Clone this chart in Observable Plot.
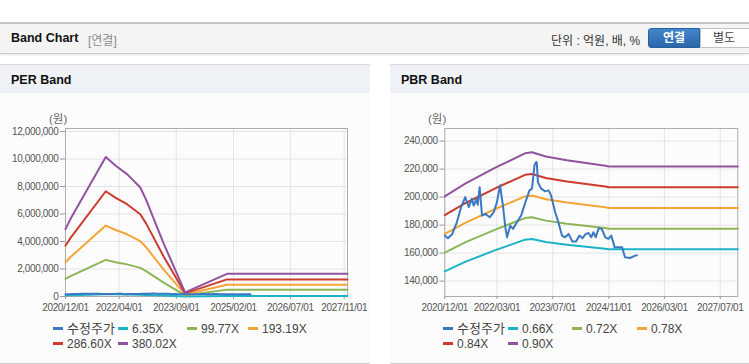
<!DOCTYPE html>
<html>
<head>
<meta charset="utf-8">
<script src="https://cdn.jsdelivr.net/npm/d3@7"></script>
<script src="https://cdn.jsdelivr.net/npm/@observablehq/plot@0.6"></script>
<style>
  html, body { margin: 0; padding: 0; background: #ffffff; }
  body { width: 749px; height: 364px; position: relative; overflow: hidden;
         font-family: "Liberation Sans", Arial, "Noto Sans CJK KR", sans-serif; }
  .abs { position: absolute; }
  #topbar { left: 0; top: 22px; width: 749px; height: 29px; background: #f4f4f4;
            border-top: 2px solid #c4c4c4; border-bottom: 1px solid #cdcdcd;
            box-shadow: 0 1px 2px rgba(0,0,0,0.10); }
  .panel { top: 64px; height: 298px; background: #fcfcfc; border-top: 1px solid #dadada;
           border-bottom: 1px solid #cfcfcf; }
  .phead { left: 0; top: 0; right: 0; height: 28px; background: #eef2f7; }
  .ptitle { font-weight: bold; font-size: 12.5px; color: #111; }
  .unit { font-size: 11.5px; color: #666; white-space: nowrap; }
  .leg { font-size: 12px; color: #444; white-space: nowrap; line-height: 14px; }
  .sw { display: inline-block; width: 10px; height: 3px; vertical-align: middle; margin-right: 4px; position: relative; top: -1px; }
</style>
</head>
<body>
<div id="topbar" class="abs"></div>
<div class="abs" style="left:11px;top:31px;font-weight:bold;font-size:12.5px;color:#111;">Band Chart</div>
<div class="abs" style="left:88px;top:31px;font-size:12px;color:#8a8a8a;">[연결]</div>
<div class="abs" style="left:551px;top:31px;font-size:12px;color:#333;">단위 : 억원, 배, %</div>
<div class="abs" style="left:648px;top:28px;width:52px;height:20px;box-sizing:border-box;border:1px solid #2a5f9e;border-radius:3px 0 0 3px;background:linear-gradient(#4486cb,#2a66aa);color:#fff;font-weight:bold;font-size:12px;text-align:center;line-height:18px;">연결</div>
<div class="abs" style="left:700px;top:28px;width:52px;height:20px;box-sizing:border-box;border:1px solid #c2c2c2;border-radius:0 3px 3px 0;background:#fff;color:#444;font-size:12px;text-align:center;line-height:18px;padding-right:4px;">별도</div>

<div class="abs panel" style="left:0;width:370px;">
  <div class="abs phead"></div>
  <div class="abs ptitle" style="left:11px;top:8px;">PER Band</div>
</div>
<div class="abs panel" style="left:390px;width:359px;">
  <div class="abs phead"></div>
  <div class="abs ptitle" style="left:11px;top:8px;">PBR Band</div>
</div>

<div class="abs unit" style="left:49px;top:110px;">(원)</div>
<div class="abs unit" style="left:428px;top:110px;">(원)</div>

<div id="perChart" class="abs" style="left:0;top:100px;"></div>
<div id="pbrChart" class="abs" style="left:380px;top:100px;"></div>
<div id="perLegend"></div>
<div id="pbrLegend"></div>

<script>
// ---------- data ----------
const priceDates = [
  "2020-12-01","2020-12-28","2021-02-04","2021-03-16","2021-04-22","2021-05-28","2021-06-28",
  "2021-07-25","2021-08-10","2021-09-04","2021-09-14","2021-10-01","2021-10-22","2021-11-19",
  "2021-12-28","2022-02-01","2022-03-01","2022-03-28","2022-04-22","2022-05-13","2022-05-28",
  "2022-06-25","2022-07-19","2022-08-22","2022-09-28","2022-11-04","2022-12-10","2023-01-01",
  "2023-01-22","2023-02-07","2023-02-12","2023-02-21","2023-03-22","2023-04-25","2023-05-25",
  "2023-06-16","2023-07-22","2023-08-19","2023-09-19","2023-10-16","2023-11-16","2023-12-19",
  "2024-01-19","2024-02-19","2024-03-16","2024-04-10","2024-05-07","2024-06-01","2024-06-19",
  "2024-07-10","2024-08-04","2024-09-01","2024-10-01","2024-10-28","2024-11-22","2024-12-22",
  "2025-01-25","2025-02-25","2025-03-22","2025-05-04","2025-06-19","2025-07-04"
];
const priceValues = [
  172500,170600,173700,182000,192800,200000,192800,
  198800,194000,198800,194500,207100,186800,188100,
  185600,189200,196400,208400,194000,178500,171300,
  179700,177300,182000,186800,196400,204800,206000,
  222700,225100,224000,210700,206000,204100,204800,
  201200,189200,182000,172500,171300,173700,168200,
  168200,172500,170600,173400,174400,171300,174900,
  171300,177700,177300,171300,170100,172500,164100,
  164100,164100,157000,156500,158200,158500
];

const perBandDates = ["2020-12-01","2021-01-16","2021-12-01","2022-03-01","2022-06-12","2022-10-10",
  "2022-12-01","2023-05-10","2023-11-20","2024-12-04","2027-12-01"];
const perBand635   = [81900, 94400, 169600, 158900, 148700, 132500, 117800, 64300, 5000, 27600, 27600];
const perBand9977  = [1286000, 1483000, 2665000, 2497000, 2337000, 2082000, 1851000, 1011000, 79000, 500000, 500000];
const perBand19319 = [2491000, 2872000, 5160000, 4835000, 4525000, 4031000, 3584000, 1957000, 152000, 850000, 850000];
const perBand28660 = [3695000, 4261000, 7655000, 7172000, 6712000, 5981000, 5317000, 2904000, 226000, 1244000, 1244000];
const perBand38002 = [4900000, 5650000, 10150000, 9510000, 8900000, 7930000, 7050000, 3850000, 300000, 1650000, 1650000];

const pbrBandDates = ["2020-12-01","2021-06-01","2022-02-15","2022-11-01","2023-01-01","2023-05-01",
  "2023-11-01","2024-10-01","2024-11-01","2027-12-01"];
const pbrBand066 = [147000,153900,162100,169600,170100,167900,166000,163100,162700,162700];
const pbrBand072 = [160400,167800,176800,185000,185600,183200,181000,177900,177400,177400];
const pbrBand078 = [173800,181800,191500,200500,201100,198500,196100,192700,192200,192200];
const pbrBand084 = [187100,195800,206300,215900,216500,213700,211200,207600,207000,207000];
const pbrBand090 = [200500,209800,221000,231300,232000,229000,226300,222400,221800,221800];

const perXTickLabels = ["2020/12/01","2022/04/01","2023/09/01","2025/02/01","2026/07/01","2027/11/01"];
const pbrXTickLabels = ["2020/12/01","2022/03/01","2023/07/01","2024/11/01","2026/03/01","2027/07/01"];
const perYTicks = [0, 2000000, 4000000, 6000000, 8000000, 10000000, 12000000];
const pbrYTicks = [140000, 160000, 180000, 200000, 220000, 240000];

const perLegendLabels = ["수정주가", "6.35X", "99.77X", "193.19X", "286.60X", "380.02X"];
const pbrLegendLabels = ["수정주가", "0.66X", "0.72X", "0.78X", "0.84X", "0.90X"];
const seriesColors = ["#3b78c4", "#1bb3c8", "#8cb656", "#f4a536", "#cf3a2e", "#91539e"];

// ---------- helpers ----------
const parseDash = d3.utcParse("%Y-%m-%d");
const parseSlash = d3.utcParse("%Y/%m/%d");
const fmtSlash = d3.utcFormat("%Y/%m/%d");
const rows = (dates, vals) => dates.map((d, i) => ({date: parseDash(d), value: vals[i]}));

function bandChart({bands, xTickLabels, yTicks, yDomain, width, height, marginLeft, marginRight}) {
  const xTicks = xTickLabels.map(parseSlash);
  const marks = [
    Plot.gridX(xTicks, {stroke: "#e4e4e4", strokeOpacity: 1}),
    Plot.gridY(yTicks, {stroke: "#e4e4e4", strokeOpacity: 1}),
    Plot.frame({stroke: "#adadad"}),
    Plot.axisY(yTicks, {label: null, tickSize: 5, tickPadding: 2, tickFormat: d3.format(","), stroke: "#999", fill: "#555", fontSize: 10}),
    Plot.axisX(xTicks, {label: null, tickSize: 3, tickPadding: 4, tickFormat: fmtSlash, stroke: "#999", fill: "#555", fontSize: 10})
  ];
  bands.forEach((b, i) => {
    marks.push(Plot.line(b, {x: "date", y: "value", stroke: seriesColors[i + 1], strokeWidth: 2}));
  });
  marks.push(Plot.line(rows(priceDates, priceValues), {x: "date", y: "value", stroke: seriesColors[0], strokeWidth: 2}));
  return Plot.plot({
    width, height, marginLeft, marginRight, marginTop: 28, marginBottom: 29,
    style: {background: "transparent", overflow: "visible", fontFamily: "'Liberation Sans', Arial, sans-serif",
            maxWidth: "none", letterSpacing: "-0.35px"},
    x: {type: "utc", domain: [parseDash("2020-12-01"), parseDash("2027-12-01")], label: null},
    y: {domain: yDomain, label: null},
    marks
  });
}

document.getElementById("perChart").appendChild(bandChart({
  bands: [rows(perBandDates, perBand635), rows(perBandDates, perBand9977), rows(perBandDates, perBand19319),
          rows(perBandDates, perBand28660), rows(perBandDates, perBand38002)],
  xTickLabels: perXTickLabels, yTicks: perYTicks, yDomain: [0, 12220000],
  width: 370, height: 225, marginLeft: 65, marginRight: 23
}));
document.getElementById("pbrChart").appendChild(bandChart({
  bands: [rows(pbrBandDates, pbrBand066), rows(pbrBandDates, pbrBand072), rows(pbrBandDates, pbrBand078),
          rows(pbrBandDates, pbrBand084), rows(pbrBandDates, pbrBand090)],
  xTickLabels: pbrXTickLabels, yTicks: pbrYTicks, yDomain: [129000, 249000],
  width: 369, height: 225, marginLeft: 64.3, marginRight: 11.7
}));

function legend(containerId, labels, positions) {
  const c = document.getElementById(containerId);
  labels.forEach((lab, i) => {
    const el = document.createElement("div");
    el.className = "abs leg";
    el.style.left = positions[i][0] + "px";
    el.style.top = (positions[i][1] - 7) + "px";
    el.innerHTML = `<span class="sw" style="background:${seriesColors[i]}"></span>` +
      `<span style="${i === 0 ? 'font-size:13px;' : ''}">${lab}</span>`;
    c.appendChild(el);
  });
}
legend("perLegend", perLegendLabels, [[53,329],[118,329],[187,329],[248,329],[53,344],[118,344]]);
legend("pbrLegend", pbrLegendLabels, [[443,329],[508,329],[572,329],[637,329],[443,344],[508,344]]);
</script>
</body>
</html>
